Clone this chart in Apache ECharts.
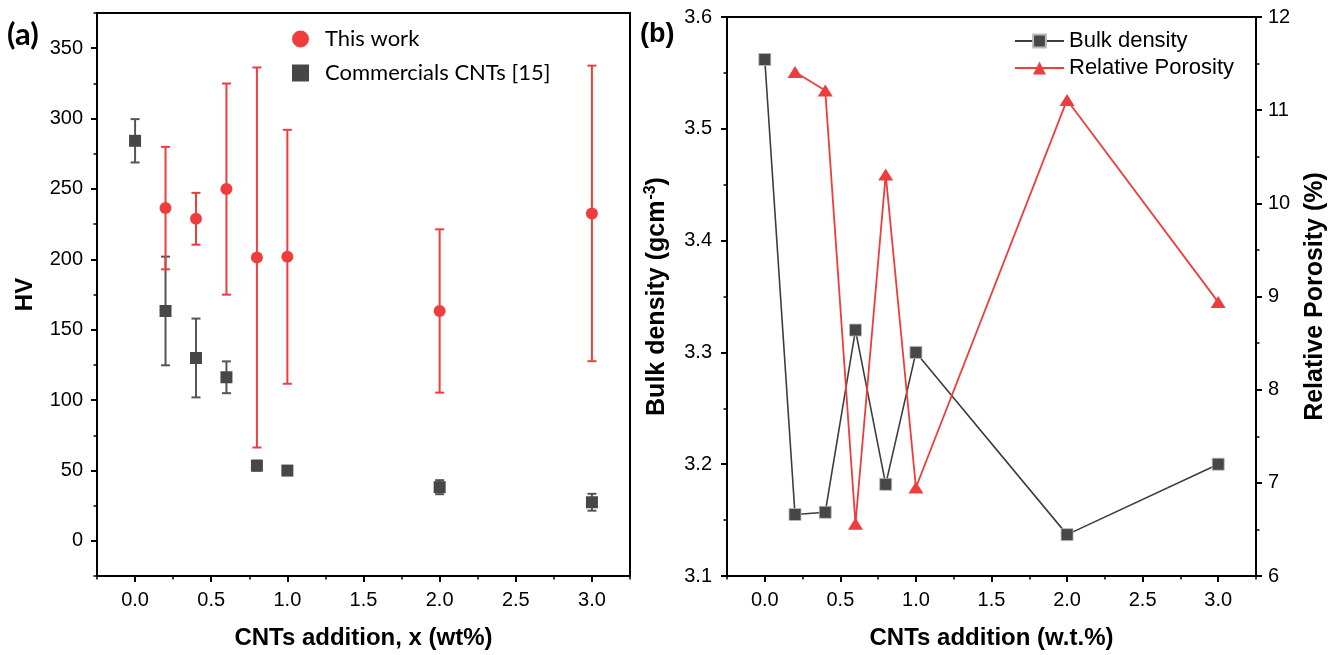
<!DOCTYPE html>
<html>
<head>
<meta charset="utf-8">
<script src="https://cdn.jsdelivr.net/npm/echarts@6/dist/echarts.min.js"></script>
<style>
  html, body { margin: 0; padding: 0; background: #fff; }
  #chart { width: 1338px; height: 655px; }
</style>
</head>
<body>
<div id="chart"></div>
<script>
// ---- panel (a): hardness ----
const xThisWork = [0.2, 0.4, 0.6, 0.8, 1.0, 2.0, 3.0];
const hvThisWork = [236.4, 228.8, 249.9, 201.3, 201.8, 163.3, 232.6];
const hvThisWorkErr = [43.5, 18.4, 75.0, 135.0, 90.2, 58.0, 105.0];

const xCommercial = [0, 0.2, 0.4, 0.6, 0.8, 1.0, 2.0, 3.0];
const hvCommercial = [284.2, 163.3, 129.9, 116.2, 53.4, 49.9, 38.1, 27.4];
const hvCommercialErr = [15.4, 38.6, 28.0, 11.3, 3.5, 2.0, 5.0, 6.0];

// ---- panel (b): density / porosity ----
const xDensity = [0, 0.2, 0.4, 0.6, 0.8, 1.0, 2.0, 3.0];
const bulkDensity = [3.562, 3.155, 3.157, 3.320, 3.182, 3.300, 3.137, 3.200];
const xPorosity = [0.2, 0.4, 0.6, 0.8, 1.0, 2.0, 3.0];
const relPorosity = [11.41, 11.21, 6.56, 10.31, 6.95, 11.11, 8.94];

// tick labels
const xTicks = [0, 0.5, 1.0, 1.5, 2.0, 2.5, 3.0];
const hvTicks = [0, 50, 100, 150, 200, 250, 300, 350];

const RED = "#ef3d3d";
const GREY = "#474747";
const FONT = "Liberation Sans, Arial, sans-serif";

const zip = (xs, ys, es) => xs.map((x, i) => (es ? [x, ys[i], es[i]] : [x, ys[i]]));

// vertical error bar with caps, drawn through the axis scales
function errorBar(params, api) {
  const x = api.value(0), y = api.value(1), e = api.value(2);
  const top = api.coord([x, y + e]);
  const bot = api.coord([x, y - e]);
  const half = 4.5;
  const style = { stroke: api.visual("color"), lineWidth: 2 };
  return {
    type: "group",
    children: [
      { type: "line", shape: { x1: top[0], y1: top[1], x2: bot[0], y2: bot[1] }, style: style },
      { type: "line", shape: { x1: top[0] - half, y1: top[1], x2: top[0] + half, y2: top[1] }, style: style },
      { type: "line", shape: { x1: bot[0] - half, y1: bot[1], x2: bot[0] + half, y2: bot[1] }, style: style },
    ],
  };
}

const axisLine = { show: true, onZero: false, lineStyle: { color: "#000", width: 2 } };
const tickLabel = { color: "#000", fontSize: 20, fontFamily: FONT };
const titleStyle = { color: "#000", fontSize: 24, fontWeight: "bold", fontFamily: FONT };
const majorTick = { show: true, length: 6, lineStyle: { color: "#000", width: 2 } };
const minorTickStyle = { show: true, length: 3.5, lineStyle: { color: "#000", width: 1.5 } };

// main axis with labelled major ticks
function mainX(grid, name) {
  return {
    type: "value", gridIndex: grid, position: "bottom", min: -0.25, max: 3.25,
    axisLine: axisLine,
    axisTick: Object.assign({ customValues: xTicks }, majorTick),
    axisLabel: Object.assign({ customValues: xTicks, margin: 14, formatter: (v) => v.toFixed(1) }, tickLabel),
    splitLine: { show: false },
    name: name, nameLocation: "middle", nameGap: 50, nameTextStyle: titleStyle,
  };
}
// overlay axis only for the short minor ticks
function minorX(grid) {
  return {
    type: "value", gridIndex: grid, position: "bottom", min: -0.25, max: 3.25, interval: 0.25,
    axisLine: { show: false, onZero: false },
    axisTick: minorTickStyle,
    axisLabel: { show: false }, splitLine: { show: false },
  };
}

const chart = echarts.init(document.getElementById("chart"));

const option = {
  animation: false,
  backgroundColor: "#fff",
  title: [
    { text: "(a)", left: 7, top: 19, padding: 0, textStyle: { fontSize: 31, fontWeight: "bold", fontFamily: "Lato", color: "#000" } },
    { text: "(b)", left: 640, top: 21, padding: 0, textStyle: { fontSize: 27, fontWeight: "bold", fontFamily: FONT, color: "#000" } },
  ],
  grid: [
    { left: 97, top: 13, width: 533, height: 563, show: true, borderColor: "#000", borderWidth: 2, backgroundColor: "transparent" },
    { left: 727, top: 17, width: 529, height: 559, show: true, borderColor: "#000", borderWidth: 2, backgroundColor: "transparent" },
  ],
  legend: [
    {
      left: 292, top: 27, padding: 0, orient: "vertical", itemWidth: 17, itemHeight: 17, itemGap: 10,
      textStyle: { fontSize: 22, fontFamily: "Lato", color: "#000", lineHeight: 24, padding: [0, 0, 0, 11] },
      data: [
        { name: "This work", icon: "circle" },
        { name: "Commercials CNTs [15]", icon: "rect" },
      ],
    },
    {
      left: 1014, top: 29, padding: 0, orient: "vertical", itemWidth: 49, itemHeight: 16, itemGap: 3,
      textStyle: { fontSize: 22, fontFamily: FONT, color: "#000", lineHeight: 24 },
      data: ["Bulk density", "Relative Porosity"],
    },
  ],
  xAxis: [
    mainX(0, "CNTs addition, x (wt%)"),
    minorX(0),
    mainX(1, "CNTs addition (w.t.%)"),
    minorX(1),
  ],
  yAxis: [
    {
      type: "value", gridIndex: 0, position: "left", min: -25, max: 375,
      axisLine: axisLine,
      axisTick: Object.assign({ customValues: hvTicks }, majorTick),
      axisLabel: Object.assign({ customValues: hvTicks, margin: 14 }, tickLabel),
      splitLine: { show: false },
      name: "HV", nameLocation: "middle", nameGap: 60, nameTextStyle: titleStyle,
    },
    {
      type: "value", gridIndex: 0, position: "left", min: -25, max: 375, interval: 25,
      axisLine: { show: false, onZero: false },
      axisTick: minorTickStyle,
      axisLabel: { show: false }, splitLine: { show: false },
    },
    {
      type: "value", gridIndex: 1, position: "left", min: 3.1, max: 3.6, interval: 0.1,
      axisLine: axisLine,
      axisTick: majorTick,
      minorTick: Object.assign({ splitNumber: 2 }, minorTickStyle),
      axisLabel: Object.assign({ margin: 15, formatter: (v) => v.toFixed(1) }, tickLabel),
      splitLine: { show: false },
      name: "Bulk density (gcm{sup|-3})", nameLocation: "middle", nameGap: 56,
      nameTextStyle: Object.assign({}, titleStyle, {
        fontSize: 25,
        rich: { sup: { fontSize: 16, fontWeight: "bold", fontFamily: FONT, color: "#000", verticalAlign: "top", padding: [0, 0, 12, 1] } },
      }),
    },
    {
      type: "value", gridIndex: 1, position: "right", min: 6, max: 12, interval: 1,
      axisLine: axisLine,
      axisTick: majorTick,
      minorTick: Object.assign({ splitNumber: 2 }, minorTickStyle),
      axisLabel: Object.assign({ margin: 12 }, tickLabel),
      splitLine: { show: false },
      name: "Relative Porosity (%)", nameLocation: "middle", nameGap: 47,
      nameTextStyle: Object.assign({}, titleStyle, { fontSize: 25 }),
    },
  ],
  series: [
    {
      type: "custom", xAxisIndex: 0, yAxisIndex: 0, renderItem: errorBar,
      itemStyle: { color: "#555" }, encode: { x: 0, y: 1 }, silent: true,
      data: zip(xCommercial, hvCommercial, hvCommercialErr),
    },
    {
      type: "custom", xAxisIndex: 0, yAxisIndex: 0, renderItem: errorBar,
      itemStyle: { color: RED }, encode: { x: 0, y: 1 }, silent: true,
      data: zip(xThisWork, hvThisWork, hvThisWorkErr),
    },
    {
      name: "Commercials CNTs [15]", type: "scatter", xAxisIndex: 0, yAxisIndex: 0,
      symbol: "rect", symbolSize: 12, itemStyle: { color: GREY, opacity: 1 }, z: 5,
      data: zip(xCommercial, hvCommercial),
    },
    {
      name: "This work", type: "scatter", xAxisIndex: 0, yAxisIndex: 0,
      symbol: "circle", symbolSize: 12, itemStyle: { color: RED, opacity: 1 }, z: 5,
      data: zip(xThisWork, hvThisWork),
    },
    {
      name: "Bulk density", type: "line", xAxisIndex: 2, yAxisIndex: 2,
      symbol: "rect", symbolSize: 12, showAllSymbol: true,
      lineStyle: { color: "#3d3d3d", width: 1.6 },
      itemStyle: { color: GREY, borderColor: "#bbb", borderWidth: 0.8 },
      data: zip(xDensity, bulkDensity),
    },
    {
      name: "Relative Porosity", type: "line", xAxisIndex: 2, yAxisIndex: 3,
      symbol: "triangle", symbolSize: [15, 12], showAllSymbol: true,
      lineStyle: { color: RED, width: 1.8 },
      itemStyle: { color: RED },
      data: zip(xPorosity, relPorosity),
    },
  ],
};

chart.setOption(option);
</script>
</body>
</html>
